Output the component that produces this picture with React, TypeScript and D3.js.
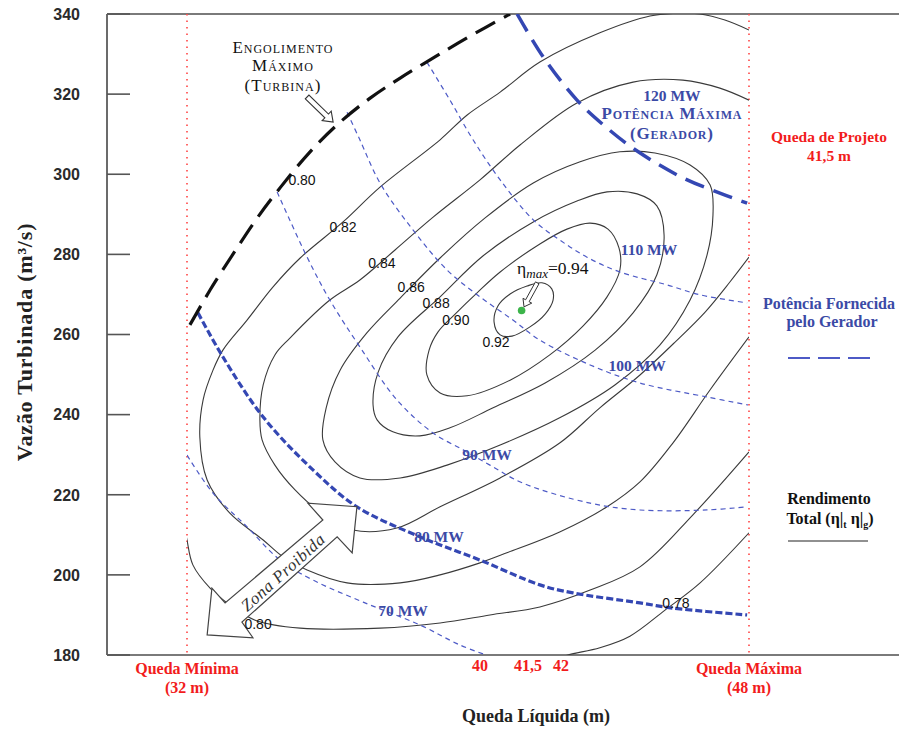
import React from "react";
import * as d3 from "d3";

type Pt = [number, number];

// Net head (m) values pinned along the horizontal axis, and their pixel positions
const headKnots = [32, 40, 41.5, 42, 48];
const headKnotPx = [187, 480, 528, 561, 749];
const flowDomain = [180, 340];
const flowTicks = [340, 320, 300, 280, 260, 240, 220, 200, 180];
const headMarks = [40, 41.5, 42];

// Iso-efficiency curves of the unit: [net head (m), turbined flow (m³/s)]
const eff092: Pt[] = [[40.44, 263.1], [40.56, 267.1], [40.94, 270.1], [41.47, 272.1], [41.71, 272.9], [41.86, 271.4], [41.88, 268.6], [41.76, 265.1], [41.53, 261.9], [41.0, 259.6], [40.63, 259.9]];
const eff090: Pt[] = [[38.55, 249.9], [38.61, 256.1], [38.85, 260.6], [39.32, 265.1], [39.92, 270.4], [40.63, 275.6], [41.68, 282.6], [42.19, 286.3], [42.93, 287.8], [43.5, 286.3], [43.85, 281.6], [43.88, 276.1], [43.47, 269.4], [42.7, 262.1], [41.83, 254.9], [40.94, 248.6], [39.65, 244.7], [38.91, 245.4]];
const eff088: Pt[] = [[37.08, 242.4], [37.22, 250.6], [37.76, 259.4], [38.91, 269.4], [40.09, 279.6], [41.58, 288.1], [42.51, 293.3], [43.47, 295.6], [44.43, 295.1], [45.06, 292.1], [45.29, 284.8], [45.06, 274.9], [44.3, 265.4], [43.09, 256.1], [41.76, 247.9], [40.41, 241.7], [39.18, 236.7], [38.36, 234.7], [37.62, 235.7], [37.19, 238.7]];
const eff086: Pt[] = [[35.71, 233.7], [35.8, 241.7], [36.18, 251.1], [36.91, 260.4], [37.82, 269.1], [38.91, 279.1], [40.16, 289.1], [41.58, 297.8], [42.61, 303.1], [43.88, 305.6], [45.0, 305.3], [46.12, 302.3], [46.76, 297.3], [46.85, 289.8], [46.66, 279.8], [46.12, 268.6], [45.16, 257.4], [43.72, 247.4], [41.98, 239.2], [40.63, 232.4], [39.1, 227.4], [37.82, 224.2], [36.72, 224.2], [36.04, 228.2]];
const eff084: Pt[] = [[48.0, 279.3], [47.39, 273.1], [46.6, 265.6], [45.64, 258.1], [44.52, 249.9], [43.24, 241.7], [41.98, 232.9], [40.63, 224.2], [38.91, 217.0], [37.73, 211.7], [36.53, 211.2], [35.63, 215.7], [34.95, 221.2], [34.4, 227.4], [34.05, 233.7], [33.99, 238.7], [34.08, 247.4], [34.4, 254.9], [34.81, 259.1], [35.9, 268.6], [36.72, 273.6], [37.68, 281.1], [38.72, 289.3], [40.0, 298.6], [41.25, 307.3], [42.51, 317.8], [44.3, 323.0], [45.89, 323.5], [47.07, 321.5], [48.0, 318.5]];
const eff082: Pt[] = [[48.0, 259.4], [46.76, 246.2], [45.57, 232.9], [44.52, 223.2], [43.47, 217.0], [41.98, 210.7], [40.84, 205.5], [40.0, 203.0], [38.91, 200.0], [37.82, 198.0], [36.37, 198.0], [35.28, 201.2], [34.62, 204.5], [34.08, 208.7], [33.17, 215.4], [32.55, 223.7], [32.35, 234.4], [32.44, 243.7], [32.71, 251.1], [32.98, 256.1], [33.64, 263.6], [34.35, 271.9], [35.09, 279.1], [36.26, 288.1], [37.27, 296.8], [38.91, 308.6], [39.65, 314.8], [40.63, 320.5], [41.68, 328.0], [43.24, 335.3], [44.84, 339.5], [45.8, 340.2], [46.44, 340.0], [47.23, 338.5], [48.0, 336.0]];
const eff080: Pt[] = [[31.92, 212.5], [32.0, 208.7], [32.16, 202.5], [32.63, 196.7], [33.17, 192.5], [33.86, 188.7], [35.09, 186.7], [37.27, 186.7], [38.91, 188.0], [40.31, 190.0], [41.68, 192.0], [42.93, 196.2], [44.52, 202.0], [46.21, 215.0], [48.0, 230.7]];
const eff078: Pt[] = [[41.91, 178.8], [42.22, 180.0], [43.24, 181.8], [44.2, 184.7], [45.32, 191.2], [46.44, 198.0], [48.0, 210.5]];

// Generator output iso-lines (MW)
const mw120: Pt[] = [[41.16, 340], [41.73, 329.3], [42.51, 318.5], [43.4, 312.0], [44.43, 305.8], [45.89, 299.1], [47.07, 295.3], [47.94, 292.8]];
const mw110: Pt[] = [[38.55, 328.0], [39.18, 318.5], [39.81, 308.6], [40.63, 298.6], [41.58, 288.6], [41.98, 283.6], [42.83, 279.3], [43.88, 275.6], [45.38, 272.4], [46.44, 269.9], [47.94, 267.9]];
const mw100: Pt[] = [[36.37, 315.5], [36.72, 308.6], [37.27, 297.8], [38.17, 286.1], [39.1, 276.1], [40.0, 269.4], [41.03, 263.6], [41.68, 258.6], [42.93, 252.4], [44.52, 247.9], [46.66, 244.4], [47.97, 242.4]];
const mw90: Pt[] = [[34.46, 295.6], [35.28, 279.3], [35.9, 268.6], [36.72, 256.9], [37.73, 243.7], [38.72, 235.4], [39.54, 231.2], [40.31, 227.4], [41.34, 222.9], [42.93, 217.9], [44.52, 216.2], [46.66, 216.2], [47.94, 217.0]];
const mw80: Pt[] = [[32.3, 265.4], [32.98, 254.4], [34.08, 239.4], [35.44, 226.2], [36.64, 217.0], [38.36, 209.5], [40.0, 203.7], [41.68, 197.5], [42.38, 195.5], [44.52, 193.0], [45.57, 191.7], [47.94, 190.0]];
const mw70: Pt[] = [[32.0, 229.9], [32.71, 220.4], [33.64, 212.0], [34.54, 203.7], [35.44, 198.7], [36.81, 193.2], [38.36, 187.5], [39.45, 182.5], [40.19, 180.0]];

// Maximum turbine discharge (engolimento máximo)
const turbineLimit: Pt[] = [[32.08, 262.4], [32.63, 271.1], [33.26, 280.1], [33.88, 288.6], [34.54, 296.6], [35.36, 305.6], [36.18, 313.0], [37.0, 319.0], [37.82, 324.0], [38.77, 329.3], [39.73, 334.5], [40.94, 340]];

// Contour value labels: [text, head, flow]
const effLabels: [string, number, number][] = [
  ["0.80", 35.14, 298.6], ["0.82", 36.26, 286.8], ["0.84", 37.32, 277.9], ["0.86", 38.12, 271.9],
  ["0.88", 38.8, 267.9], ["0.90", 39.34, 263.6], ["0.92", 40.5, 258.1], ["0.80", 33.94, 187.7], ["0.78", 45.67, 193.0],
];
const mwLabels: [string, number, number][] = [
  ["110 MW", 44.81, 281.3], ["100 MW", 44.43, 252.4], ["90 MW", 40.22, 230.1], ["80 MW", 38.88, 209.5], ["70 MW", 37.9, 191.2],
];

// Best efficiency point
const peak: Pt = [41.3, 266.0];
const peakValue = "0.94";

// Forbidden-zone double arrow outline (head, flow)
const forbiddenArrow: Pt[] = [[36.64, 217.0], [36.51, 205.5], [36.1, 209.5], [33.5, 188.2], [33.8, 184.3], [32.55, 185.0], [32.68, 196.7], [33.04, 193.0], [35.71, 213.7], [35.3, 217.9]];

const SERIF = "'Liberation Serif', 'Times New Roman', serif";
const SANS = "'Liberation Sans', Arial, sans-serif";
const BLUE = "#3b4aa6";
const LINE_BLUE = "#4d5ac6";
const RED = "#f21c1c";

const x = d3.scaleLinear().domain(headKnots).range(headKnotPx);
const y = d3.scaleLinear().domain(flowDomain).range([655, 14]);

const open = d3.line<Pt>().x((d) => x(d[0])).y((d) => y(d[1])).curve(d3.curveCatmullRom.alpha(0.5));
const closed = d3.line<Pt>().x((d) => x(d[0])).y((d) => y(d[1])).curve(d3.curveCatmullRomClosed.alpha(0.5));

function hollowArrow(a: Pt, b: Pt, shaft: number, head: number, headLen: number): string {
  const x0 = x(a[0]), y0 = y(a[1]), x1 = x(b[0]), y1 = y(b[1]);
  const len = Math.hypot(x1 - x0, y1 - y0);
  const ux = (x1 - x0) / len, uy = (y1 - y0) / len;
  const nx = -uy, ny = ux;
  const bx = x1 - ux * headLen, by = y1 - uy * headLen;
  const pts = [
    [x0 + nx * shaft, y0 + ny * shaft],
    [bx + nx * shaft, by + ny * shaft],
    [bx + nx * head, by + ny * head],
    [x1, y1],
    [bx - nx * head, by - ny * head],
    [bx - nx * shaft, by - ny * shaft],
    [x0 - nx * shaft, y0 - ny * shaft],
  ];
  return pts.map((p) => p.join(",")).join(" ");
}

export default function App() {
  const left = 107, top = 14, bottom = 655, right = 899;
  const x32 = x(32), x48 = x(48);
  const openContours = [eff084, eff082, eff080, eff078];
  const closedContours = [eff092, eff090, eff088, eff086];
  const thinMw = [mw110, mw100, mw90, mw70];
  const smallCaps = { fontVariant: "small-caps" as const };

  return (
    <svg width={899} height={729} style={{ position: "absolute", left: 0, top: 0, background: "#fff" }}>
      <defs>
        <clipPath id="plot">
          <rect x={x32} y={top} width={x48 - x32} height={bottom - top} />
        </clipPath>
      </defs>
      <rect width={899} height={729} fill="#fff" />

      {/* frame */}
      <line x1={left} x2={left} y1={top} y2={bottom} stroke="#6b6b6b" strokeWidth={2} />
      <line x1={left} x2={right} y1={top} y2={top} stroke="#7a7a7a" strokeWidth={2} />
      <line x1={left} x2={right} y1={bottom} y2={bottom} stroke="#7a7a7a" strokeWidth={2} />
      {flowTicks.map((t) => (
        <g key={t}>
          <line x1={left} x2={left + 23} y1={y(t)} y2={y(t)} stroke="#555" strokeWidth={1.6} />
          <text x={80} y={y(t)} dy="0.36em" textAnchor="end" fontFamily={SANS} fontWeight="bold" fontSize={16} fill="#2a2a2a">{t}</text>
        </g>
      ))}

      {/* head limits */}
      {[x32, x48].map((px, i) => (
        <line key={i} x1={px} x2={px} y1={top} y2={bottom} stroke="#ff5050" strokeWidth={1.7} strokeDasharray="1.5,5" />
      ))}

      <g clipPath="url(#plot)">
        {closedContours.map((c, i) => (
          <path key={"c" + i} d={closed(c) || ""} fill="none" stroke="#3a3a3a" strokeWidth={1.1} />
        ))}
        {openContours.map((c, i) => (
          <path key={"o" + i} d={open(c) || ""} fill="none" stroke="#3a3a3a" strokeWidth={1.1} />
        ))}
        {thinMw.map((c, i) => (
          <path key={"m" + i} d={open(c) || ""} fill="none" stroke={LINE_BLUE} strokeWidth={1.2} strokeDasharray="5,4" />
        ))}
        <path d={open(mw120) || ""} fill="none" stroke="#3447b3" strokeWidth={3.5} strokeDasharray="20,10" />
        <path d={open(mw80) || ""} fill="none" stroke="#3447b3" strokeWidth={3.2} strokeDasharray="7,3" />
        <path d={open(turbineLimit) || ""} fill="none" stroke="#111" strokeWidth={3.2} strokeDasharray="22,10" />
      </g>

      {/* forbidden zone arrow */}
      <polygon points={forbiddenArrow.map((p) => `${x(p[0])},${y(p[1])}`).join(" ")} fill="#fff" stroke="#444" strokeWidth={1.2} />
      <text transform={`translate(${x(34.62)},${y(200.7)}) rotate(-42)`} textAnchor="middle" dy="0.35em" fontFamily={SERIF} fontStyle="italic" fontSize={17} fill="#333" letterSpacing={0.6}>Zona Proibida</text>

      {/* contour labels */}
      {effLabels.map(([t, h, q], i) => (
        <text key={i} x={x(h)} y={y(q)} dy="0.36em" textAnchor="middle" fontFamily={SANS} fontSize={14} fill="#111">{t}</text>
      ))}

      {/* MW labels */}
      {mwLabels.map(([t, h, q], i) => (
        <text key={i} x={x(h)} y={y(q)} dy="0.36em" textAnchor="middle" fontFamily={SERIF} fontWeight="bold" fontSize={15.5} fill={BLUE}>{t}</text>
      ))}
      <text x={x(45.54)} y={y(319.8)} dy="0.36em" textAnchor="middle" fontFamily={SERIF} fontWeight="bold" fontSize={15.5} fill={BLUE}>120 MW</text>
      <text x={x(45.54)} y={y(315.3)} dy="0.36em" textAnchor="middle" fontFamily={SERIF} fontWeight="bold" fontSize={17} letterSpacing={0.8} fill={BLUE} style={smallCaps}>Potência Máxima</text>
      <text x={x(45.54)} y={y(310.3)} dy="0.36em" textAnchor="middle" fontFamily={SERIF} fontWeight="bold" fontSize={17} letterSpacing={0.8} fill={BLUE} style={smallCaps}>(Gerador)</text>

      {/* turbine limit note */}
      <text x={x(34.62)} y={y(331.8)} dy="0.36em" textAnchor="middle" fontFamily={SERIF} fontSize={17} letterSpacing={1} fill="#111" style={smallCaps}>Engolimento</text>
      <text x={x(34.62)} y={y(327.3)} dy="0.36em" textAnchor="middle" fontFamily={SERIF} fontSize={17} letterSpacing={1} fill="#111" style={smallCaps}>Máximo</text>
      <text x={x(34.62)} y={y(322.3)} dy="0.36em" textAnchor="middle" fontFamily={SERIF} fontSize={17} letterSpacing={1} fill="#111" style={smallCaps}>(Turbina)</text>
      <polygon points={hollowArrow([35.28, 319.3], [35.99, 313.0], 2.6, 6.5, 9)} fill="#fff" stroke="#333" strokeWidth={1.1} />

      {/* best efficiency point */}
      <polygon points={hollowArrow([41.64, 272.9], [41.375, 266.9], 2, 5, 7)} fill="#fff" stroke="#333" strokeWidth={1} />
      <circle cx={x(peak[0])} cy={y(peak[1])} r={3.8} fill="#3cb44a" />
      <text x={x(41.16)} y={y(275.1)} fontFamily={SERIF} fontSize={17.5} fill="#111">
        <tspan>η</tspan>
        <tspan fontStyle="italic" fontSize={13} dy={4}>max</tspan>
        <tspan dy={-4}>{"=" + peakValue}</tspan>
      </text>

      {/* axis titles */}
      <text transform={`translate(24,342) rotate(-90)`} textAnchor="middle" dy="0.35em" fontFamily={SERIF} fontWeight="bold" fontSize={22} letterSpacing={0.8} fill="#222">Vazão Turbinada (m³/s)</text>
      <text x={536} y={716} dy="0.35em" textAnchor="middle" fontFamily={SERIF} fontWeight="bold" fontSize={18} fill="#222">Queda Líquida (m)</text>

      {/* head annotations under the axis */}
      <text x={x32} y={668} dy="0.35em" textAnchor="middle" fontFamily={SERIF} fontWeight="bold" fontSize={16} fill={RED}>Queda Mínima</text>
      <text x={x32} y={687} dy="0.35em" textAnchor="middle" fontFamily={SERIF} fontWeight="bold" fontSize={16} fill={RED}>(32 m)</text>
      <text x={x48} y={668} dy="0.35em" textAnchor="middle" fontFamily={SERIF} fontWeight="bold" fontSize={16} fill={RED}>Queda Máxima</text>
      <text x={x48} y={687} dy="0.35em" textAnchor="middle" fontFamily={SERIF} fontWeight="bold" fontSize={16} fill={RED}>(48 m)</text>
      {headMarks.map((h) => (
        <text key={h} x={x(h)} y={665} dy="0.35em" textAnchor="middle" fontFamily={SERIF} fontWeight="bold" fontSize={16} fill={RED}>{String(h).replace(".", ",")}</text>
      ))}

      {/* right-hand notes */}
      <text x={829} y={137} dy="0.35em" textAnchor="middle" fontFamily={SERIF} fontWeight="bold" fontSize={15.5} fill={RED}>Queda de Projeto</text>
      <text x={829} y={156} dy="0.35em" textAnchor="middle" fontFamily={SERIF} fontWeight="bold" fontSize={15.5} fill={RED}>41,5 m</text>

      <text x={829} y={303} dy="0.35em" textAnchor="middle" fontFamily={SERIF} fontWeight="bold" fontSize={16} fill={BLUE}>Potência Fornecida</text>
      <text x={832} y={321} dy="0.35em" textAnchor="middle" fontFamily={SERIF} fontWeight="bold" fontSize={16} fill={BLUE}>pelo Gerador</text>
      <line x1={788} x2={870} y1={358} y2={358} stroke={LINE_BLUE} strokeWidth={2} strokeDasharray="22,8" />

      <text x={829} y={498} dy="0.35em" textAnchor="middle" fontFamily={SERIF} fontWeight="bold" fontSize={16} fill="#111">Rendimento</text>
      <text x={830} y={518} dy="0.35em" textAnchor="middle" fontFamily={SERIF} fontWeight="bold" fontSize={16} fill="#111">
        <tspan>Total (η</tspan>
        <tspan>|</tspan>
        <tspan fontSize={10} dy={4}>t</tspan>
        <tspan dy={-4}> η</tspan>
        <tspan>|</tspan>
        <tspan fontSize={10} dy={4}>g</tspan>
        <tspan dy={-4}>)</tspan>
      </text>
      <line x1={788} x2={868} y1={541} y2={541} stroke="#222" strokeWidth={1.2} />
    </svg>
  );
}
